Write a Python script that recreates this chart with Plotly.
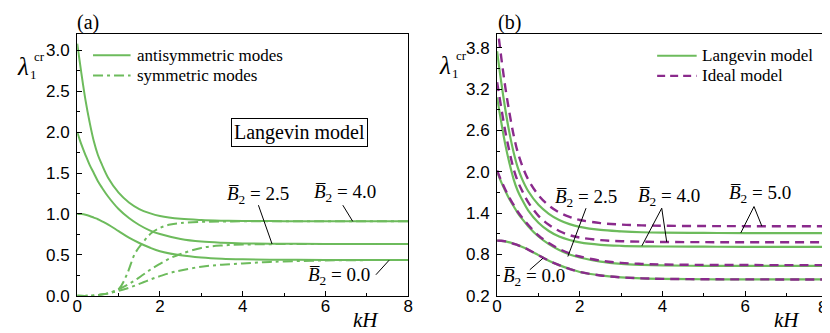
import plotly.graph_objects as go

# ---------------- data ----------------
# Panel (a): Langevin model, antisymmetric (solid) and symmetric (dash-dot) modes
x_anti = [0, 0.1, 0.2, 0.3, 0.4, 0.5, 0.6, 0.75, 1, 1.25, 1.5, 1.75, 2, 2.5, 3, 3.5, 4, 5, 6, 8]
anti_B0 = [1.0, 0.998, 0.99, 0.975, 0.955, 0.935, 0.91, 0.87, 0.79, 0.71, 0.645, 0.59, 0.545, 0.495, 0.468, 0.453, 0.446, 0.44, 0.438, 0.437]
anti_B25 = [2.0, 1.85, 1.72, 1.60, 1.50, 1.40, 1.32, 1.21, 1.06, 0.95, 0.865, 0.80, 0.755, 0.695, 0.663, 0.648, 0.640, 0.635, 0.634, 0.633]
anti_B40 = [3.08, 2.72, 2.39, 2.12, 1.89, 1.72, 1.60, 1.44, 1.26, 1.14, 1.06, 1.01, 0.975, 0.94, 0.925, 0.918, 0.915, 0.912, 0.911, 0.91]

x_sym = [0, 0.3, 0.5, 0.75, 1, 1.2, 1.4, 1.6, 1.8, 2, 2.25, 2.5, 3, 3.5, 4, 4.5, 5, 6, 7, 8]
sym_B0 = [0, 0.0, 0.01, 0.03, 0.06, 0.09, 0.125, 0.165, 0.205, 0.24, 0.28, 0.31, 0.355, 0.38, 0.395, 0.41, 0.42, 0.432, 0.436, 0.437]
sym_B25 = [0, 0.0, 0.01, 0.03, 0.08, 0.13, 0.19, 0.26, 0.33, 0.39, 0.46, 0.51, 0.585, 0.615, 0.626, 0.63, 0.632, 0.633, 0.633, 0.633]
sym_B40 = [0, 0.0, 0.01, 0.03, 0.08, 0.26, 0.52, 0.66, 0.77, 0.83, 0.87, 0.888, 0.903, 0.908, 0.91, 0.91, 0.91, 0.91, 0.91, 0.91]

# Panel (b): Langevin vs ideal model
x_b = [0, 0.1, 0.2, 0.3, 0.4, 0.5, 0.6, 0.75, 1, 1.25, 1.5, 1.75, 2, 2.5, 3, 3.5, 4, 5, 6, 8]
lang_B0 = anti_B0
lang_B25 = anti_B25
lang_B40 = anti_B40
lang_B50 = [3.75, 3.30, 2.90, 2.56, 2.28, 2.06, 1.90, 1.72, 1.52, 1.39, 1.30, 1.24, 1.20, 1.155, 1.135, 1.122, 1.116, 1.112, 1.11, 1.11]
ideal_B0 = anti_B0
ideal_B25 = [2.02, 1.87, 1.74, 1.62, 1.52, 1.42, 1.34, 1.23, 1.075, 0.965, 0.88, 0.815, 0.77, 0.71, 0.678, 0.662, 0.654, 0.648, 0.646, 0.645]
ideal_B40 = [3.30, 2.93, 2.58, 2.29, 2.04, 1.86, 1.73, 1.56, 1.36, 1.23, 1.14, 1.08, 1.045, 1.008, 0.992, 0.985, 0.981, 0.978, 0.977, 0.977]
ideal_B50 = [4.15, 3.66, 3.22, 2.85, 2.53, 2.28, 2.10, 1.89, 1.66, 1.51, 1.41, 1.345, 1.30, 1.255, 1.233, 1.222, 1.216, 1.212, 1.21, 1.21]

ticks_a_y = [0.0, 0.5, 1.0, 1.5, 2.0, 2.5, 3.0]
ticks_b_y = [0.2, 0.8, 1.4, 2.0, 2.6, 3.2, 3.8]
ticks_x = [0, 2, 4, 6, 8]
ticks_x_text = ["0", "2", "4", "6", "8"]

# ---------------- style ----------------
W, H = 830, 333
GREEN = "#6dbb5c"
PURPLE = "#8a2a8c"
SERIF = "Liberation Serif, Times New Roman, serif"
SANS = "Liberation Sans, Arial, sans-serif"


def px(x):
    return x / W


def py(y):
    return 1 - y / H


fig = go.Figure()

# panel (a)
for yy in (anti_B0, anti_B25, anti_B40):
    fig.add_trace(go.Scatter(x=x_anti, y=yy, mode="lines", xaxis="x", yaxis="y",
                             line=dict(color=GREEN, width=2, shape="spline", smoothing=1.0),
                             showlegend=False, hoverinfo="skip"))
for yy in (sym_B0, sym_B25, sym_B40):
    fig.add_trace(go.Scatter(x=x_sym, y=yy, mode="lines", xaxis="x", yaxis="y",
                             line=dict(color=GREEN, width=2, dash="10px,4px,3px,4px", shape="spline", smoothing=1.0),
                             showlegend=False, hoverinfo="skip"))

# panel (b)
for yy in (lang_B0, lang_B25, lang_B40, lang_B50):
    fig.add_trace(go.Scatter(x=x_b, y=yy, mode="lines", xaxis="x2", yaxis="y2",
                             line=dict(color=GREEN, width=2.2, shape="spline", smoothing=1.0),
                             showlegend=False, hoverinfo="skip"))
for yy in (ideal_B0, ideal_B25, ideal_B40, ideal_B50):
    fig.add_trace(go.Scatter(x=x_b, y=yy, mode="lines", xaxis="x2", yaxis="y2",
                             line=dict(color=PURPLE, width=2.4, dash="9px,6px", shape="spline", smoothing=1.0),
                             showlegend=False, hoverinfo="skip"))

axis_common = dict(showline=True, linecolor="black", linewidth=1.2, mirror=True,
                   ticks="inside", ticklen=5, tickwidth=1, tickcolor="black",
                   showgrid=False, zeroline=False,
                   tickfont=dict(family=SANS, size=17, color="black"))

ydom = [py(296.7), py(26.7)]
# the last x tick label of panel (b) sits against the figure edge; it is drawn
# right-aligned to the axis end as in the reference
ticks_x_text_b = ticks_x_text[:-1] + [""]
fig.update_layout(
    width=W, height=H, margin=dict(l=0, r=0, t=0, b=0),
    paper_bgcolor="white", plot_bgcolor="white", showlegend=False,
    xaxis=dict(domain=[px(65), px(400)], range=[0, 8], tickvals=ticks_x, ticktext=ticks_x_text, anchor="y",
               ticklabelstandoff=-5,
               minor=dict(ticks="inside", ticklen=3, tickcolor="black", dtick=1), **axis_common),
    yaxis=dict(domain=ydom, range=[0, 3.2], tickvals=ticks_a_y, tickformat=".1f", anchor="x", ticklabelstandoff=3,
               minor=dict(ticks="inside", ticklen=3, tickcolor="black", dtick=0.25, tick0=0), **axis_common),
    xaxis2=dict(domain=[px(490), px(825)], range=[0, 8], tickvals=ticks_x, ticktext=ticks_x_text_b, anchor="y2",
                ticklabelstandoff=-5,
                minor=dict(ticks="inside", ticklen=3, tickcolor="black", dtick=1), **axis_common),
    yaxis2=dict(domain=ydom, range=[0.2, 4.0], tickvals=ticks_b_y, tickformat=".1f", anchor="x2", ticklabelstandoff=3,
                minor=dict(ticks="inside", ticklen=3, tickcolor="black", dtick=0.3, tick0=0.2), **axis_common),
)

ann = []
shapes = []


def text(x, y, s, size, xanchor="center", family=SERIF, **kw):
    ann.append(dict(x=px(x), y=py(y), xref="paper", yref="paper", text=s, showarrow=False,
                    xanchor=xanchor, yanchor="middle", font=dict(family=family, size=size, color="black"), **kw))


# last tick label of panel (b)
text(819, 309, ticks_x_text[-1], 17, family=SANS)

# panel labels
text(76, 15, "(a)", 20)
text(503, 15, "(b)", 20)
# y titles
for (lx, ly) in ((10, 60), (437, 59)):
    text(lx, ly, "<i>λ</i>", 25)
    text(lx + 17, ly - 10, "cr", 13)
    text(lx + 11, ly + 9, "1", 13)
# x titles
text(357, 322, "<i>kH</i>", 21)
text(783, 322, "<i>kH</i>", 21)

# legend (a)
shapes.append(dict(type="line", xref="paper", yref="paper", x0=px(81), x1=px(119), y0=py(48.7), y1=py(48.7),
                   line=dict(color=GREEN, width=2)))
shapes.append(dict(type="line", xref="paper", yref="paper", x0=px(81), x1=px(119), y0=py(69.7), y1=py(69.7),
                   line=dict(color=GREEN, width=2, dash="10px,4px,3px,4px")))
text(123, 48.7, "antisymmetric modes", 17, xanchor="left")
text(123, 69.7, "symmetric modes", 17, xanchor="left")
# legend (b)
shapes.append(dict(type="line", xref="paper", yref="paper", x0=px(652), x1=px(692), y0=py(49.3), y1=py(49.3),
                   line=dict(color=GREEN, width=2)))
shapes.append(dict(type="line", xref="paper", yref="paper", x0=px(652), x1=px(692), y0=py(70), y1=py(70),
                   line=dict(color=PURPLE, width=2.4, dash="8px,5px")))
text(695, 49.3, "Langevin model", 17, xanchor="left")
text(695, 70, "Ideal model", 17, xanchor="left")

# Langevin model box
ann.append(dict(x=px(290), y=py(128.3), xref="paper", yref="paper", text="Langevin model", showarrow=False,
                xanchor="center", yanchor="middle", font=dict(family=SERIF, size=20, color="black"),
                bordercolor="black", borderwidth=1, borderpad=2))

BLAB = "<i>B\u0305</i><sub>2</sub> = "
# labels panel (a)
text(248, 193, BLAB + "2.5", 19)
text(336, 191, BLAB + "4.0", 19)
text(330, 276, BLAB + "0.0", 19)
# labels panel (b)
text(580, 196, BLAB + "2.5", 19)
text(527, 277, BLAB + "0.0", 19)
text(664, 195, BLAB + "4.0", 19)
text(756, 192, BLAB + "5.0", 19)


def lead(xr, yr, x0, y0, x1, y1):
    shapes.append(dict(type="line", xref=xr, yref=yr, x0=x0, y0=y0, x1=x1, y1=y1,
                       line=dict(color="black", width=1)))


# leader lines (a)
lead("x", "y", 4.38, 1.107, 4.71, 0.633)
lead("x", "y", 6.42, 1.107, 6.66, 0.909)
lead("x", "y", 7.22, 0.257, 7.54, 0.435)
# leader lines (b)
lead("x2", "y2", 2.15, 1.471, 1.71, 0.77)
lead("x2", "y2", 0.79, 0.577, 1.11, 0.745)
lead("x2", "y2", 3.98, 1.471, 3.50, 0.925)
lead("x2", "y2", 3.98, 1.471, 4.10, 0.982)
lead("x2", "y2", 6.21, 1.495, 5.89, 1.112)
lead("x2", "y2", 6.21, 1.495, 6.40, 1.21)

fig.update_layout(annotations=ann, shapes=shapes)
fig.write_html("out.html")
